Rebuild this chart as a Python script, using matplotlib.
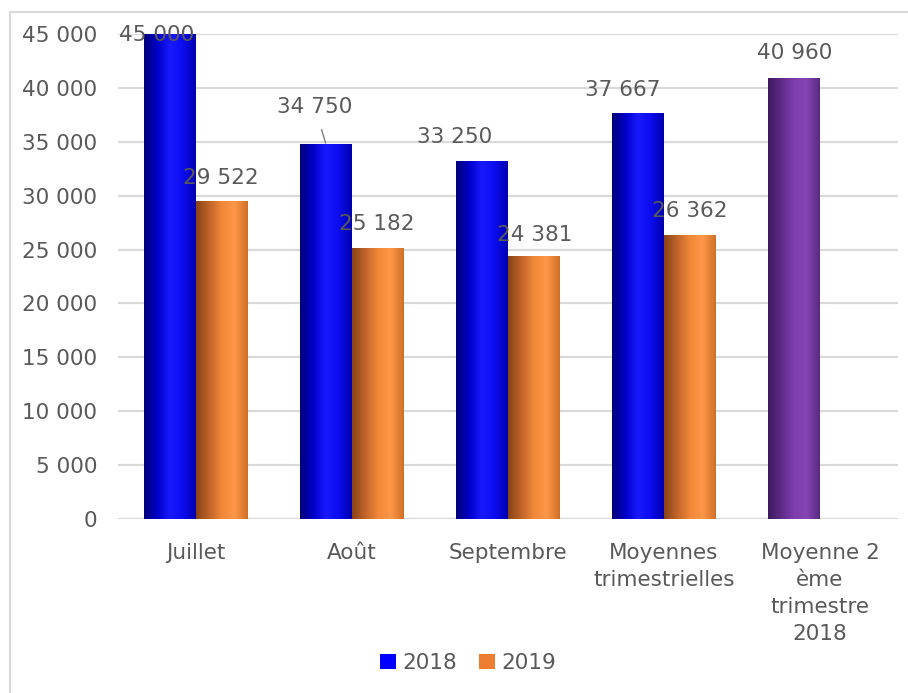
import numpy as np
import matplotlib
matplotlib.use("Agg")
import matplotlib.pyplot as plt
from matplotlib.colors import LinearSegmentedColormap
from matplotlib.patches import Rectangle

categories = ["Juillet", "Août", "Septembre", "Moyennes\ntrimestrielles",
              "Moyenne 2\nème\ntrimestre\n2018"]
values_2018 = [45000, 34750, 33250, 37667, np.nan]
values_2019 = [29522, 25182, 24381, 26362, np.nan]
moyenne_2t_2018 = [np.nan, np.nan, np.nan, np.nan, 40960]
yticks = [0, 5000, 10000, 15000, 20000, 25000, 30000, 35000, 40000, 45000]

def fmt(v):
    return f"{int(round(v)):,}".replace(",", " ")

plt.rcParams['font.family'] = ['DejaVu Sans']
TXT = "#595959"
GRID = "#D9D9D9"
FS = 15.5

fig = plt.figure(figsize=(9.08, 6.93), dpi=100)
ax = fig.add_axes([118/908, 1-519/693, (898-118)/908, (519-34)/693])

x = np.arange(len(categories))
w = 1/3

grads = {
    "blue": ["#00007A", "#0000C8", "#1A1AFF", "#0C0CF0", "#0000B0"],
    "orange": ["#8A4418", "#C0642A", "#F08838", "#FF9848", "#D07028"],
    "purple": ["#3E1A5E", "#5E2A88", "#7E3EAE", "#8444B4", "#5A2A80"],
}

def grad_bars(bars, key):
    cmap = LinearSegmentedColormap.from_list(key, grads[key])
    g = np.linspace(0, 1, 64).reshape(1, -1)
    for b in bars:
        h = b.get_height()
        if not np.isfinite(h) or h == 0:
            continue
        x0, y0 = b.get_x(), b.get_y()
        bw = b.get_width()
        im = ax.imshow(g, cmap=cmap, aspect='auto',
                       extent=[x0, x0 + bw, y0, y0 + h], zorder=3,
                       interpolation='bicubic')
        im.set_clip_path(b)
        b.set_facecolor('none')

b18 = ax.bar(x - w/2, values_2018, w, color="#0000FF", label="2018", zorder=3,
             linewidth=0)
b19 = ax.bar(x + w/2, values_2019, w, color="#ED7D31", label="2019", zorder=3,
             linewidth=0)
bm = ax.bar(x - w/2, moyenne_2t_2018, w, color="#7030A0", zorder=3, linewidth=0)

grad_bars(b18, "blue")
grad_bars(b19, "orange")
grad_bars(bm, "purple")

ax.set_xlim(-0.5, len(categories) - 0.5)
ax.set_ylim(0, 45000)
ax.set_yticks(yticks)
ax.set_yticklabels([fmt(v) for v in yticks])
ax.yaxis.grid(True, color=GRID, linewidth=1.6, zorder=0)
ax.set_axisbelow(True)
for s in ax.spines.values():
    s.set_visible(False)
ax.tick_params(axis='both', length=0, labelsize=FS, colors=TXT)
ax.tick_params(axis='y', pad=15)
ax.tick_params(axis='x', pad=17)
ax.set_xticks(x)
ax.set_xticklabels(categories, linespacing=1.45)
ax.axhline(0, color=GRID, linewidth=1.6, zorder=1)

# data labels (offsets in pixels from bar top centre)
off18 = [(-13, 1), (-11, -37), (-27, -24), (-15, -23), None]
off19 = [(-1, -23), (-1, -24), (1, -21), (0, -24), None]
offm = [None, None, None, None, (1, -25)]

def label(bars, vals, offs, leader=()):
    for i, (b, v, o) in enumerate(zip(bars, vals, offs)):
        if o is None or not np.isfinite(v):
            continue
        cx = b.get_x() + b.get_width()/2
        ap = None
        if i in leader:
            ap = dict(arrowstyle='-', color="#808080", lw=1,
                      shrinkA=7, shrinkB=1)
        ax.annotate(fmt(v), (cx, v), xytext=(o[0], -o[1]),
                    textcoords='offset pixels', ha='center', va='center',
                    fontsize=FS, color=TXT, zorder=5, arrowprops=ap,
                    annotation_clip=False)

label(b18, values_2018, off18, leader=(1,))
label(b19, values_2019, off19)
label(bm, moyenne_2t_2018, offm)

leg = fig.legend(handles=[b18, b19], labels=["2018", "2019"], loc='center',
                 bbox_to_anchor=(468/908, 1-663/693), ncol=2, frameon=False,
                 fontsize=FS, handlelength=0.75, handleheight=0.75,
                 handletextpad=0.3, columnspacing=1.0, labelcolor=TXT)
for h, c in zip(leg.legend_handles, ["#0000FF", "#ED7D31"]):
    h.set_facecolor(c)

fig.patches.append(Rectangle((10/908, -0.1), 1.2, 1.1 - 12/693,
                             transform=fig.transFigure, fill=False,
                             edgecolor=GRID, linewidth=1.5))

fig.savefig("out.png", dpi=100)
